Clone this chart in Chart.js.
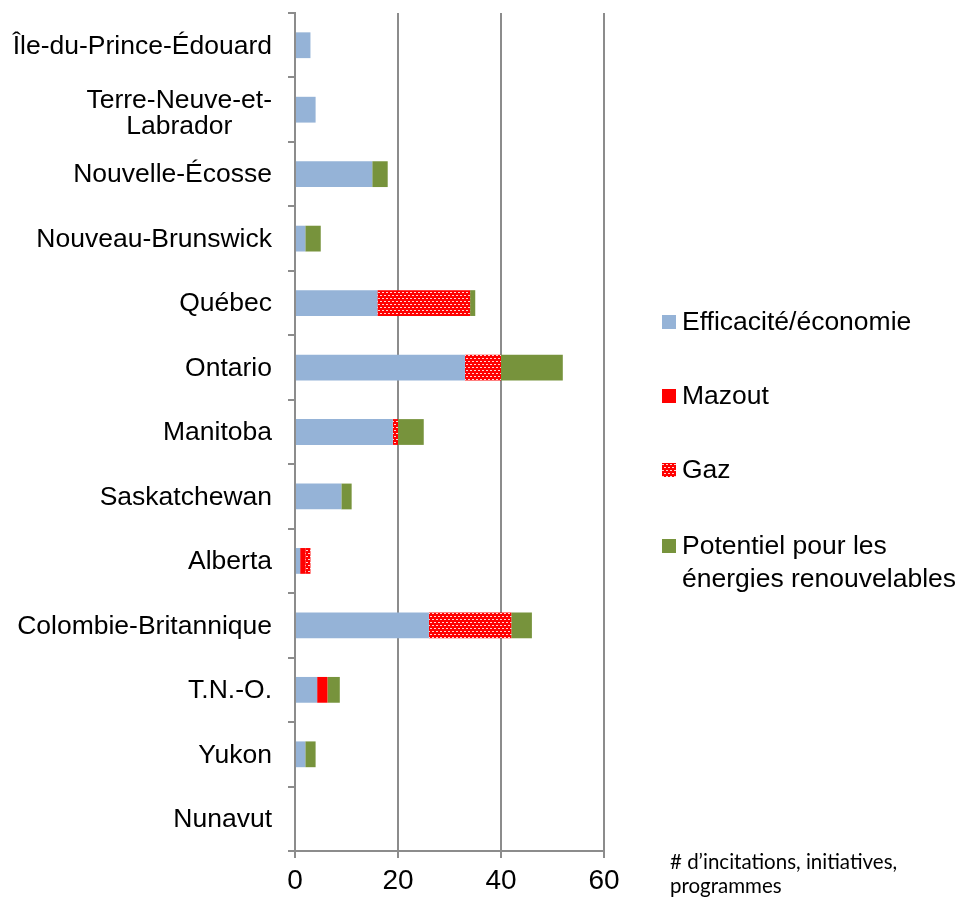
<!DOCTYPE html>
<html lang="fr">
<head>
<meta charset="utf-8">
<script src="https://cdn.jsdelivr.net/npm/chart.js@4/dist/chart.umd.min.js"></script>
<style>
  html, body { margin: 0; padding: 0; background: #fff; }
  #wrap { position: relative; width: 958px; height: 901px; }
  #chart { position: absolute; left: 0; top: 0; }
  .legend { position: absolute; left: 662px; top: 0; font-family: "Liberation Sans", Arial, sans-serif; font-size: 26.5px; color: #000; }
  .item { position: absolute; left: 0; white-space: nowrap; line-height: 33px; }
  .sw { position: absolute; left: 0; top: 10px; width: 14px; height: 14px; }
  .txt { position: absolute; left: 20px; top: 0; }
  .note { position: absolute; left: 670px; top: 849px; font-family: Lato, "Open Sans", sans-serif; font-size: 20.5px; line-height: 24px; color: #000; white-space: nowrap; }
</style>
</head>
<body>
<div id="wrap">
  <canvas id="chart" width="958" height="901"></canvas>
  <div class="legend" id="legend"></div>
  <div class="note"># d’incitations, initiatives,<br>programmes</div>
</div>
<script>
// Provinces and territories, top to bottom
const categories = [
  'Île-du-Prince-Édouard',
  ['Terre-Neuve-et-', 'Labrador'],
  'Nouvelle-Écosse',
  'Nouveau-Brunswick',
  'Québec',
  'Ontario',
  'Manitoba',
  'Saskatchewan',
  'Alberta',
  'Colombie-Britannique',
  'T.N.-O.',
  'Yukon',
  'Nunavut'
];

// Number of incentives / initiatives / programs per type
const efficacite = [3, 4, 15, 2, 16, 33, 19, 9, 1, 26, 4.3, 2, 0];
const mazout     = [0, 0, 0, 0, 0, 0, 0, 0, 1, 0, 2, 0, 0];
const gaz        = [0, 0, 0, 0, 18, 7, 1, 0, 1, 16, 0, 0, 0];
const potentiel  = [0, 0, 3, 3, 1, 12, 5, 2, 0, 4, 2.4, 2, 0];

const xTicks = [0, 20, 40, 60];

const seriesNames = ['Efficacité/économie', 'Mazout', 'Gaz', ['Potentiel pour les', 'énergies renouvelables']];

const BLUE = '#95B3D7';
const RED = '#FF0000';
const GREEN = '#77933C';
const AXIS = '#8C8C8C';
const FONT = '"Liberation Sans", Arial, sans-serif';

// Red fill with small white staggered dashes for the gas series
function makeGasTile() {
  const c = document.createElement('canvas');
  c.width = 8; c.height = 6;
  const g = c.getContext('2d');
  g.fillStyle = RED;
  g.fillRect(0, 0, 8, 6);
  g.fillStyle = 'rgba(255,225,225,0.95)';
  g.fillRect(0, 1, 2, 1);
  g.fillRect(4, 1, 2, 1);
  g.fillRect(2, 4, 2, 1);
  g.fillRect(6, 4, 2, 1);
  return c;
}
const gasTile = makeGasTile();
const gasPattern = document.getElementById('chart').getContext('2d').createPattern(gasTile, 'repeat');

// Category labels: right-aligned block, lines centred inside the block
const categoryLabels = {
  id: 'categoryLabels',
  afterDraw(chart) {
    const ctx = chart.ctx;
    const y = chart.scales.y;
    const right = 272;
    const lh = 26;
    ctx.save();
    ctx.font = '26.5px ' + FONT;
    ctx.fillStyle = '#000';
    ctx.textBaseline = 'middle';
    ctx.textAlign = 'center';
    categories.forEach((lab, i) => {
      const lines = Array.isArray(lab) ? lab : [lab];
      const w = Math.max(...lines.map(l => ctx.measureText(l).width));
      const cx = right - w / 2;
      const cy = y.getPixelForValue(i) + (lines.length > 1 ? 4 : 1);
      const y0 = cy - (lines.length - 1) * lh / 2;
      lines.forEach((l, k) => ctx.fillText(l, cx, y0 + k * lh));
    });
    ctx.restore();
  }
};

new Chart(document.getElementById('chart'), {
  type: 'bar',
  data: {
    labels: categories,
    datasets: [
      { label: 'Efficacité/économie', data: efficacite, backgroundColor: BLUE },
      { label: 'Mazout', data: mazout, backgroundColor: RED },
      { label: 'Gaz', data: gaz, backgroundColor: gasPattern },
      { label: 'Potentiel pour les énergies renouvelables', data: potentiel, backgroundColor: GREEN }
    ]
  },
  options: {
    indexAxis: 'y',
    responsive: false,
    animation: false,
    devicePixelRatio: 1,
    layout: { padding: { top: 13, right: 354, left: 0, bottom: 0 } },
    datasets: { bar: { categoryPercentage: 1, barPercentage: 0.4, borderWidth: 0 } },
    plugins: { legend: { display: false }, tooltip: { enabled: false } },
    scales: {
      x: {
        stacked: true,
        min: 0, max: 60,
        afterBuildTicks(s) { s.ticks = xTicks.map(v => ({ value: v })); },
        afterFit(s) { s.height = 50; },
        grid: { color: AXIS, lineWidth: 2, drawTicks: true, tickLength: 7 },
        border: { display: true, color: AXIS, width: 2 },
        ticks: { color: '#000', font: { family: FONT, size: 28 }, padding: 6 }
      },
      y: {
        stacked: true,
        afterFit(s) { s.width = 295; },
        grid: { offset: true, drawOnChartArea: false, drawTicks: true, tickLength: 7, color: AXIS, lineWidth: 2 },
        border: { display: true, color: AXIS, width: 2 },
        ticks: { display: false }
      }
    }
  },
  plugins: [categoryLabels]
});

// Legend beside the plot
const legendEl = document.getElementById('legend');
const swatches = [BLUE, RED, 'url(' + gasTile.toDataURL() + ')', GREEN];
const legendTops = [305, 379, 453, 529];
seriesNames.forEach((name, i) => {
  const item = document.createElement('div');
  item.className = 'item';
  item.style.top = legendTops[i] + 'px';
  const sw = document.createElement('div');
  sw.className = 'sw';
  sw.style.background = swatches[i];
  const tx = document.createElement('div');
  tx.className = 'txt';
  tx.innerHTML = (Array.isArray(name) ? name : [name]).join('<br>');
  item.appendChild(sw);
  item.appendChild(tx);
  legendEl.appendChild(item);
});
</script>
</body>
</html>
